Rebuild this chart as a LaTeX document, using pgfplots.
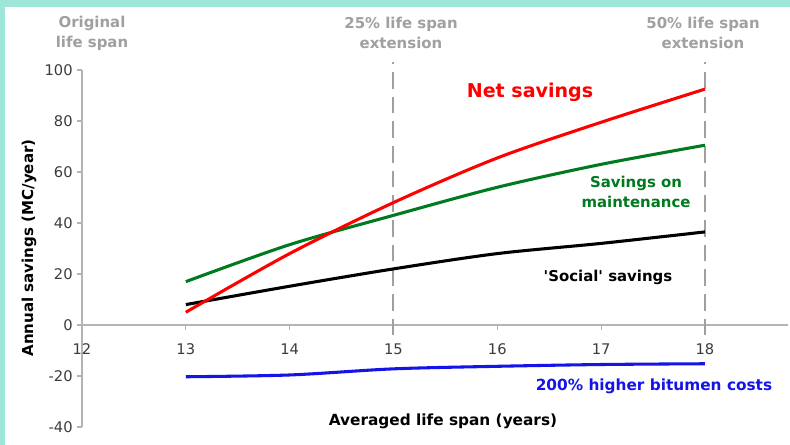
\documentclass[border=0pt]{standalone}
\usepackage{pgfplots}
\pgfplotsset{compat=1.18}
\usepackage{fontspec}
\setmainfont{DejaVu Sans}
\definecolor{mint}{HTML}{9EE6D8}
\definecolor{netred}{HTML}{FF0000}
\definecolor{maingreen}{HTML}{007A1E}
\definecolor{bitblue}{HTML}{1414E6}
\definecolor{annogray}{HTML}{A0A0A0}
\definecolor{ticktext}{HTML}{3C3C3C}
\definecolor{axisgray}{HTML}{B4B4B4}
\newcommand{\sq}{\XeTeXglyph\numexpr\XeTeXcharglyph"0027\relax}
\begin{document}
\begin{tikzpicture}
\path[use as bounding box, fill=white] (0,0) rectangle (592.5pt,333.75pt);
\fill[mint] (0,0) rectangle (3.75pt,333.75pt);
\fill[mint] (0,328.5pt) rectangle (592.5pt,333.75pt);
\begin{axis}[
  at={(61.5pt,13.5pt)}, anchor=south west,
  scale only axis, width=529.5pt, height=267.75pt,
  xmin=12, xmax=18.8, ymin=-40, ymax=100,
  axis x line=middle, axis y line=left,
  axis line style={draw=axisgray, line width=0.9pt, -},
  hide obscured x ticks=false,
  xtick={12,13,14,15,16,17,18},
  ytick={-40,-20,0,20,40,60,80,100},
  tick style={draw=axisgray, line width=0.8pt},
  major tick length=3.5pt,
  x tick label style={yshift=-7pt},
  tick align=outside,
  /pgf/number format/assume math mode=true,
  ticklabel style={font=\fontsize{11}{13}\selectfont, text=ticktext},
  clip=false,
]
\addplot[annogray, line width=1.5pt, dash pattern=on 12.5pt off 6pt] coordinates {(15,-4) (15,103)};
\addplot[annogray, line width=1.5pt, dash pattern=on 12.5pt off 6pt] coordinates {(18,-4) (18,103)};
\addplot[bitblue, line width=2.3pt, smooth] coordinates {(13,-20.3) (14,-19.6) (15,-17.2) (16,-16.2) (17,-15.5) (18,-15.2)};
\addplot[black, line width=2.3pt, smooth] coordinates {(13,8) (14,15.2) (15,22) (16,28) (17,32) (18,36.5)};
\addplot[maingreen, line width=2.3pt, smooth] coordinates {(13,17) (14,31.5) (15,43) (16,54) (17,63) (18,70.5)};
\addplot[netred, line width=2.3pt, smooth] coordinates {(13,5) (14,28) (15,48) (16,65.5) (17,79.5) (18,92.5)};
\end{axis}
\node[font=\bfseries\fontsize{11.2}{15}\selectfont, text=annogray, align=center] at (69pt,309pt) {Original\\life span};
\node[font=\bfseries\fontsize{11.2}{15}\selectfont, text=annogray, align=center] at (300.75pt,309pt) {25\% life span\\extension};
\node[font=\bfseries\fontsize{11.2}{15}\selectfont, text=annogray, align=center] at (527.25pt,309pt) {50\% life span\\extension};
\node[font=\bfseries\fontsize{14.3}{17}\selectfont, text=netred] at (397.5pt,264.75pt) {Net savings};
\node[font=\bfseries\fontsize{11.2}{14.5}\selectfont, text=maingreen, align=center] at (477pt,189.75pt) {Savings on\\maintenance};
\node[font=\bfseries\fontsize{11.2}{13}\selectfont, text=black] at (456pt,126pt) {\sq Social\sq{} savings};
\node[font=\bfseries\fontsize{11.5}{13}\selectfont, text=bitblue] at (490.5pt,44.25pt) {200\% higher bitumen costs};
\node[font=\bfseries\fontsize{11.5}{13}\selectfont, text=black] at (332.25pt,18pt) {Averaged life span (years)};
\node[font=\bfseries\fontsize{11.3}{13}\selectfont, text=black, rotate=90] at (21.75pt,147.75pt) {Annual savings (MC/year)};
\end{tikzpicture}
\end{document}
